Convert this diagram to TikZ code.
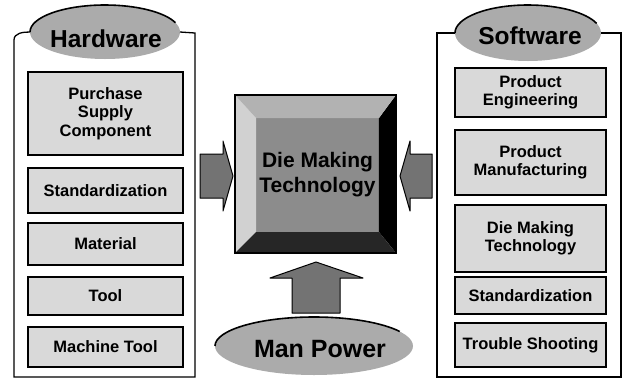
\documentclass[tikz,border=0pt]{standalone}
\usepackage{fontspec}
\setmainfont{Liberation Sans}
\usetikzlibrary{shapes.geometric}

\begin{document}
\begin{tikzpicture}[
x=1pt, y=-1pt,
font=\bfseries,
frame/.style={draw=black, line width=1.3pt},
item/.style={%
    rectangle,
    draw=black,
    line width=1.6pt,
    fill=black!15,
    align=center,
    inner sep=1pt,
    font=\bfseries\fontsize{16.5}{18.5}\selectfont,
},
hwbox/.style={item, minimum width=155pt},
swbox/.style={item, minimum width=151pt},
tab/.style={%
    ellipse, fill=black!33, inner sep=0pt, outer sep=0pt,
},
tabtext/.style={font=\bfseries\fontsize{24.5}{26}\selectfont},
rim/.style={draw=black, line width=1.6pt},
blockarrow/.style={fill=black!55, draw=black, line width=1pt, line join=round},
]
\useasboundingbox (0,0) rectangle (624,378);

% Tabs
\node[tab, minimum width=150pt, minimum height=54pt] at (105,32) (hardware) {};
\node[tabtext] at (106,39) (hardwarelabel) {Hardware};
\node[tab, minimum width=146pt, minimum height=56pt] at (528,33) (software) {};
\node[tabtext] at (530,36) (softwarelabel) {Software};

% Frames
\draw[frame] (hardware.west) to[out=180, in=90] (14,40) -- (14,377) -- (195,377) -- (195,33) -- (hardware.east);
\draw[frame] (software.west) -- (437,33) -- (437,377) -- (621,377) -- (621,33) -- (software.east);
\draw[rim] (hardware.west) arc[start angle=180, end angle=20, x radius=75pt, y radius=27pt];
\draw[rim] (software.west) arc[start angle=180, end angle=20, x radius=73pt, y radius=28pt];

% Hardware items
\node[hwbox, minimum height=83pt] at (105.5,113.5) (purchase)  {Purchase\\Supply\\Component};
\node[hwbox, minimum height=45pt] at (105.5,190.5) (hwstd)     {Standardization};
\node[hwbox, minimum height=42pt] at (105.5,244)   (material)  {Material};
\node[hwbox, minimum height=38pt] at (105.5,296)   (tool)      {Tool};
\node[hwbox, minimum height=40pt] at (105.5,347)   (machine)   {Machine Tool};

% Software items
\node[swbox, minimum height=49pt] at (530.5,92.5)  (engineering)   {Product\\Engineering};
\node[swbox, minimum height=65pt] at (530.5,162.5) (manufacturing) {Product\\Manufacturing};
\node[swbox, minimum height=67pt] at (530.5,238.5) (swdie)         {Die Making\\Technology};
\node[swbox, minimum height=37pt] at (530.5,295.5) (swstd)         {Standardization};
\node[swbox, minimum height=44pt] at (530.5,345)   (trouble)       {Trouble Shooting};

% Centre block
\node[rectangle, minimum width=161pt, minimum height=158pt, outer sep=0pt] at (315.5,174) (coreframe) {};
\node[rectangle, fill=black!45, minimum width=121pt, minimum height=114pt, outer sep=0pt,
      align=center, font=\bfseries\fontsize{21}{25}\selectfont] at (317.5,175) (core) {Die Making\\Technology};
\fill[black!18] (coreframe.north west) -- (core.north west) -- (core.south west) -- (coreframe.south west) -- cycle;
\fill[black] (coreframe.north east) -- (core.north east) -- (core.south east) -- (coreframe.south east) -- cycle;
\fill[black!85] (coreframe.south west) -- (core.south west) -- (core.south east) -- (coreframe.south east) -- cycle;
\fill[black!30] (coreframe.north west) -- (coreframe.north east) -- (core.north east) -- (core.north west) -- cycle;
\draw[black, line width=1.6pt] (coreframe.south west) rectangle (coreframe.north east);

% Arrows into the block
\draw[blockarrow] (200,154) -- (223,154) -- (223,141) -- (233,176) -- (223,211) -- (223,198) -- (200,198) -- cycle;
\draw[blockarrow] (432,154) -- (410,154) -- (410,141) -- (400,176) -- (410,211) -- (410,198) -- (432,198) -- cycle;
\draw[blockarrow] (292,313) -- (292,278) -- (270,278) -- (316,262) -- (363,278) -- (340,278) -- (340,313) -- cycle;

% Man power
\node[tab, minimum width=198pt, minimum height=58pt] at (314,346) (manpower) {};
\draw[rim] (manpower.west) arc[start angle=180, end angle=30, x radius=99pt, y radius=29pt];
\node[font=\bfseries\fontsize{25}{27}\selectfont] at (320,349) (manpowerlabel) {Man Power};
\end{tikzpicture}
\end{document}
